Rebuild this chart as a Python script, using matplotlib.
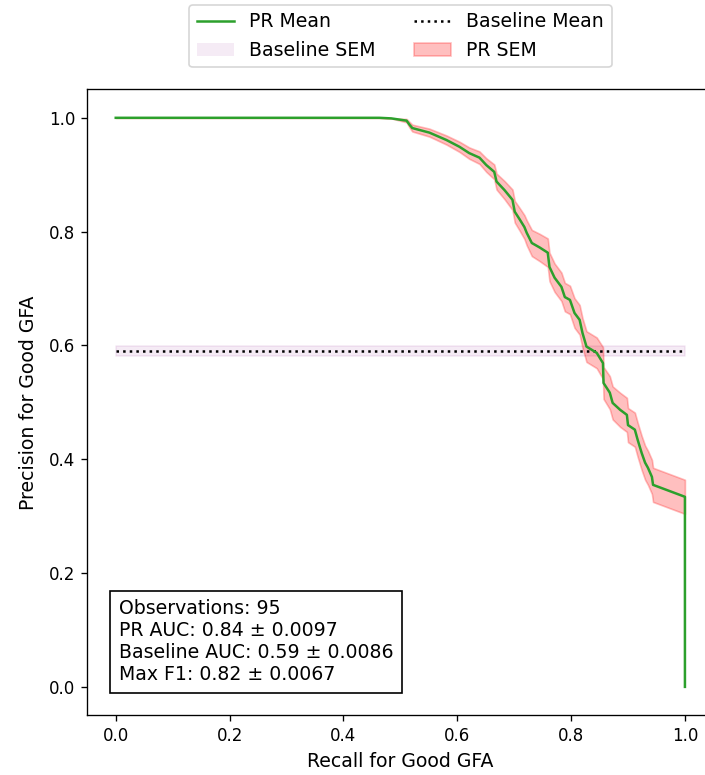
import numpy as np
import matplotlib
matplotlib.use("Agg")
import matplotlib.pyplot as plt
from matplotlib.lines import Line2D
from matplotlib.patches import Patch

# Mean precision-recall curve (interpolated over folds) and its SEM
recall = [0.000, 0.463, 0.484, 0.511, 0.516, 0.521, 0.551, 0.581, 0.604, 0.621,
          0.639, 0.651, 0.665, 0.669, 0.683, 0.697, 0.701, 0.710, 0.718, 0.722,
          0.731, 0.745, 0.759, 0.762, 0.771, 0.783, 0.789, 0.798, 0.806, 0.815,
          0.820, 0.827, 0.845, 0.856, 0.857, 0.868, 0.873, 0.886, 0.898, 0.900,
          0.912, 0.917, 0.924, 0.930, 0.935, 0.942, 0.944, 1.000, 1.000]
precision = [1.000, 1.000, 0.999, 0.995, 0.988, 0.982, 0.974, 0.961, 0.949, 0.938,
             0.930, 0.917, 0.905, 0.888, 0.873, 0.856, 0.835, 0.821, 0.808, 0.798,
             0.780, 0.772, 0.763, 0.738, 0.719, 0.703, 0.685, 0.680, 0.657, 0.645,
             0.622, 0.598, 0.587, 0.569, 0.534, 0.517, 0.499, 0.487, 0.478, 0.460,
             0.452, 0.434, 0.411, 0.394, 0.385, 0.369, 0.355, 0.334, 0.000]
pr_sem = [0.000, 0.000, 0.000, 0.003, 0.005, 0.006, 0.007, 0.008, 0.009, 0.010,
          0.011, 0.012, 0.013, 0.014, 0.016, 0.018, 0.019, 0.020, 0.021, 0.022,
          0.023, 0.024, 0.025, 0.025, 0.025, 0.025, 0.025, 0.025, 0.026, 0.026,
          0.026, 0.027, 0.027, 0.028, 0.028, 0.029, 0.029, 0.030, 0.030, 0.030,
          0.030, 0.030, 0.030, 0.030, 0.030, 0.030, 0.030, 0.030, 0.000]

baseline_mean = 0.59
baseline_sem = 0.0086
n_obs = 95
pr_auc, pr_auc_sem = 0.84, 0.0097
base_auc, base_auc_sem = 0.59, 0.0086
max_f1, max_f1_sem = 0.82, 0.0067

rec = np.array(recall)
prec = np.array(precision)
sem = np.array(pr_sem)

label_size = 11.3

fig = plt.figure(figsize=(705 / 120, 775 / 120), dpi=120)
ax = fig.add_axes([0.1238, 0.0770, 0.8881, 0.8077])

# baseline (class prevalence)
ax.fill_between([0, 1], baseline_mean - baseline_sem, baseline_mean + baseline_sem,
                color='purple', alpha=0.08)
ax.plot([0, 1], [baseline_mean, baseline_mean], color='black', linestyle=':')

# PR curve
ax.fill_between(rec[:-1], prec[:-1] - sem[:-1], prec[:-1] + sem[:-1],
                color='red', alpha=0.25)
ax.plot(rec, prec, color='tab:green')

ax.set_xlabel('Recall for Good GFA', fontsize=label_size)
ax.set_ylabel('Precision for Good GFA', fontsize=label_size, labelpad=7)
ax.spines['right'].set_visible(False)

stats = (f'Observations: {n_obs}\n'
         f'PR AUC: {pr_auc:.2f} \u00b1 {pr_auc_sem:.4f}\n'
         f'Baseline AUC: {base_auc:.2f} \u00b1 {base_auc_sem:.4f}\n'
         f'Max F1: {max_f1:.2f} \u00b1 {max_f1_sem:.4f}')
ax.text(0.05, 0.05, stats, transform=ax.transAxes, va='bottom', ha='left',
        fontsize=label_size,
        bbox=dict(boxstyle='square,pad=0.45', facecolor='white', edgecolor='black'))

handles = [Line2D([], [], color='tab:green'),
           Patch(facecolor='purple', alpha=0.08),
           Line2D([], [], color='black', linestyle=':'),
           Patch(facecolor='red', edgecolor='red', alpha=0.25)]
labels = ['PR Mean', 'Baseline SEM', 'Baseline Mean', 'PR SEM']
ax.legend(handles, labels, loc='lower center', bbox_to_anchor=(0.5, 1.02), ncol=2,
          fontsize=label_size)

fig.savefig('out.png', dpi=120)
